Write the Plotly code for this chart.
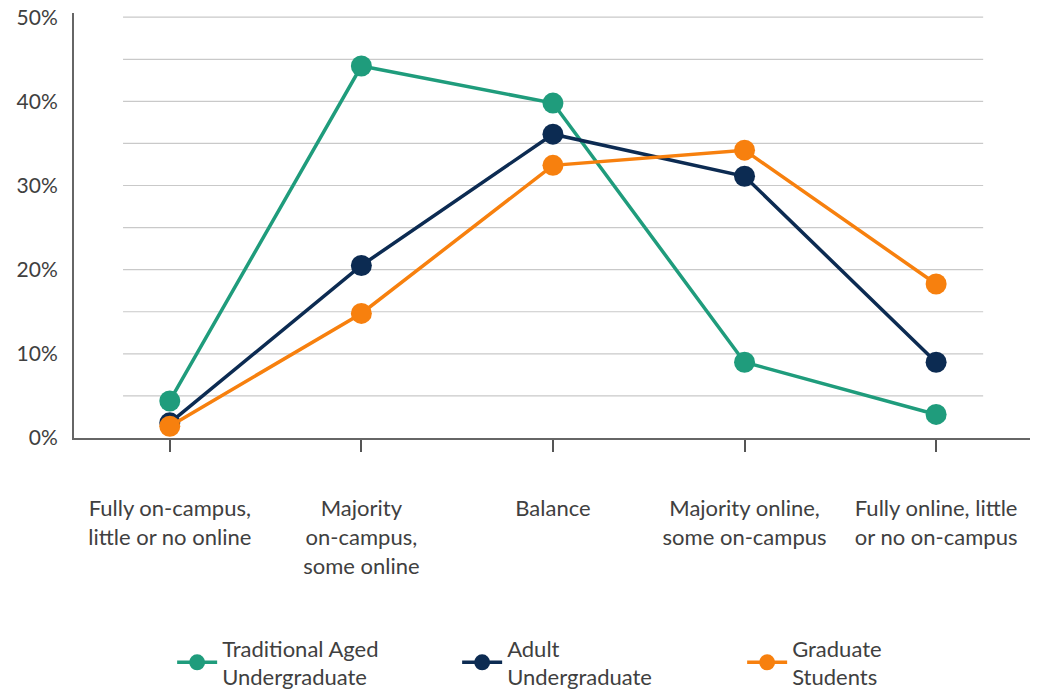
import plotly.graph_objects as go

categories = [
    "Fully on-campus,<br>little or no online",
    "Majority<br>on-campus,<br>some online",
    "Balance",
    "Majority online,<br>some on-campus",
    "Fully online, little<br>or no on-campus",
]
traditional = [4.4, 44.2, 39.8, 9.0, 2.8]
adult = [1.8, 20.5, 36.1, 31.1, 9.0]
graduate = [1.4, 14.8, 32.4, 34.2, 18.3]
series_names = ["Traditional Aged<br>Undergraduate", "Adult<br>Undergraduate", "Graduate<br>Students"]
colors = ["#1f9c7c", "#0c2b52", "#f7800e"]
y_ticks = [0, 10, 20, 30, 40, 50]
y_tick_text = ["0%", "10%", "20%", "30%", "40%", "50%"]
grid_vals = [5, 10, 15, 20, 25, 30, 35, 40, 45, 50]

FONT = "Lato"
x_idx = list(range(len(categories)))

fig = go.Figure()
for name, vals, col in zip(series_names, [traditional, adult, graduate], colors):
    fig.add_trace(go.Scatter(
        x=x_idx, y=vals, name=name, mode="lines+markers",
        line=dict(color=col, width=3.5),
        marker=dict(color=col, size=21),
        cliponaxis=False,
    ))

shapes = []
for v in grid_vals:
    shapes.append(dict(type="line", xref="paper", yref="y", x0=0.0513, x1=0.951, y0=v, y1=v,
                       line=dict(color="#c9c9c9", width=1.2), layer="below"))

fig.update_layout(
    width=1037, height=694,
    margin=dict(l=74, r=7, t=13, b=256, pad=0, autoexpand=False),
    paper_bgcolor="white", plot_bgcolor="white",
    font=dict(family=FONT, size=22, color="#404040"),
    shapes=shapes,
    showlegend=True,
    legend=dict(orientation="h", xref="container", yref="container",
                x=0.166, xanchor="left", y=0.045, yanchor="middle",
                font=dict(family=FONT, size=22, color="#404040"),
                entrywidth=230, entrywidthmode="pixels", itemwidth=40,
                traceorder="normal"),
)
fig.update_xaxes(
    tickmode="array", tickvals=x_idx, ticktext=categories,
    range=[-0.5, 4.49], showgrid=False, zeroline=False, automargin=False,
    showline=True, linecolor="#666666", linewidth=2,
    ticks="outside", ticklen=12, tickwidth=2, tickcolor="#555555",
    ticklabelstandoff=38,
    tickfont=dict(family=FONT, size=22, color="#404040"),
)
fig.update_yaxes(
    range=[0, 50.5], tickmode="array", tickvals=y_ticks, ticktext=y_tick_text,
    showgrid=False, zeroline=False, automargin=False,
    showline=True, linecolor="#666666", linewidth=2,
    ticks="", ticklabelstandoff=10, ticklabeloverflow="allow",
    tickfont=dict(family=FONT, size=21, color="#404040"),
)

fig.write_html("out.html", config={"displayModeBar": False},
               post_script="document.body.style.margin='0';")
